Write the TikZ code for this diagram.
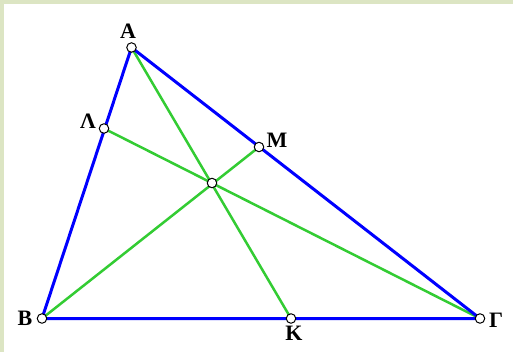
\documentclass[tikz,border=0pt]{standalone}
\usepackage{fontspec}
\setmainfont{Liberation Serif}
\begin{document}
\begin{tikzpicture}[x=1pt,y=-1pt]
\definecolor{bordergreen}{HTML}{DCE5C3}
\definecolor{lgreen}{HTML}{33CC33}
\tikzset{
  side/.style={draw=blue,line width=3pt},
  cevian/.style={draw=lgreen,line width=2.5pt},
  pt/.style={circle,draw=black,fill=white,line width=1pt,inner sep=0pt,minimum size=9.5pt},
  lbl/.style={font=\fontsize{22}{22}\selectfont\bfseries,inner sep=0pt}}
\fill[bordergreen] (0,0) rectangle (513,352);
\fill[white] (4,4) rectangle (513,352);
\useasboundingbox (0,0) rectangle (513,352);
\coordinate (A) at (131.5,47.5);
\coordinate (B) at (42,318.5);
\coordinate (G) at (480,318.5);
\coordinate (L) at (104,128.5);
\coordinate (M) at (259,147);
\coordinate (K) at (291,318.5);
\coordinate (P) at (212,183);
\draw[cevian] (A) -- (K);
\draw[cevian] (L) -- (G);
\draw[cevian] (B) -- (M);
\draw[side,line join=round] (A) -- (B) -- (G) -- cycle;
\foreach \p in {A,B,G,L,M,K,P} \node[pt] (n\p) at (\p) {};
\node[lbl] (tA) at (128,31) {Α};
\node[lbl] (tL) at (88,121.5) {Λ};
\node[lbl] (tM) at (277,140) {Μ};
\node[lbl] (tB) at (25,318) {Β};
\node[lbl] (tK) at (294,333) {Κ};
\node[lbl] (tG) at (496,320) {Γ};
\end{tikzpicture}
\end{document}
